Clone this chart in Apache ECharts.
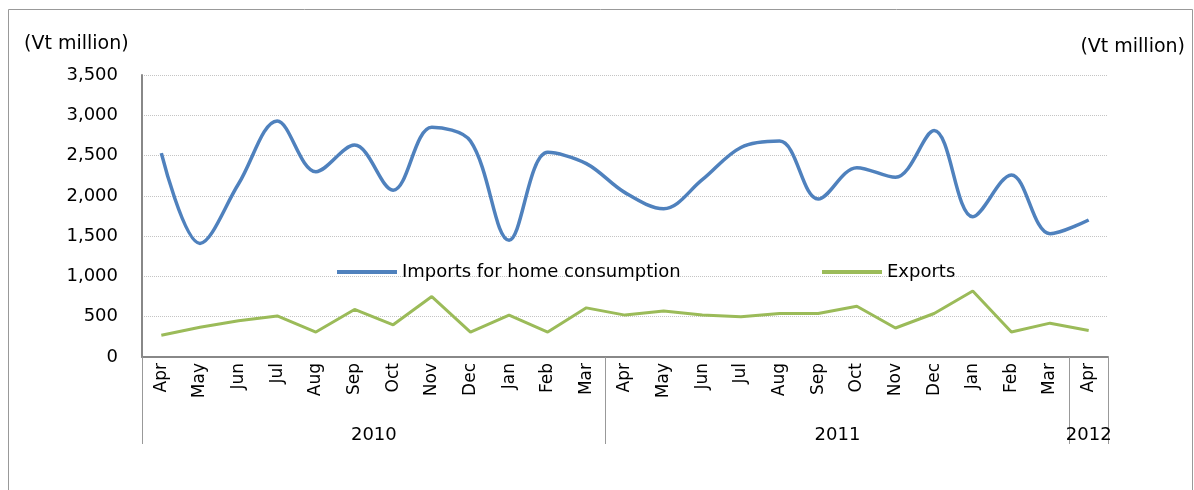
<!DOCTYPE html>
<html>
<head>
<meta charset="utf-8">
<script src="https://cdn.jsdelivr.net/npm/echarts@6/dist/echarts.min.js"></script>
<style>
html,body{margin:0;padding:0;background:#fff;}
#c{width:1194px;height:490px;}
</style>
</head>
<body>
<div id="c"></div>
<script>
const months = ['Apr','May','Jun','Jul','Aug','Sep','Oct','Nov','Dec','Jan','Feb','Mar',
                'Apr','May','Jun','Jul','Aug','Sep','Oct','Nov','Dec','Jan','Feb','Mar','Apr'];
const years = ['2010','2011','2012'];
const yearSpans = [12, 12, 1];
const imports = [2530,1410,2150,2930,2300,2630,2070,2850,2680,1450,2540,2400,
                 2040,1840,2200,2600,2680,1960,2350,2230,2810,1740,2260,1530,1700];
const exports = [270,370,450,510,310,590,400,750,310,520,310,610,
                 520,570,520,500,540,540,630,360,540,820,310,420,330];
const yTicks = [0,500,1000,1500,2000,2500,3000,3500];
const unitLabel = '(Vt million)';
const seriesNames = ['Imports for home consumption','Exports'];

// year boundaries and centres (in category units)
const bounds = [0];
yearSpans.forEach(s => bounds.push(bounds[bounds.length-1] + s));
const centres = yearSpans.map((s,i) => bounds[i] + s/2);

const FONT = 'DejaVu Sans';
const chart = echarts.init(document.getElementById('c'), null, {renderer:'canvas'});
chart.setOption({
  backgroundColor:'#fff',
  animation:false,
  title:[
    {text:unitLabel, left:19, top:30, textStyle:{fontFamily:FONT, fontSize:19, fontWeight:'normal', color:'#000'}},
    {text:unitLabel, right:4, top:33, textStyle:{fontFamily:FONT, fontSize:19, fontWeight:'normal', color:'#000'}}
  ],
  legend:[
    {data:[seriesNames[0]], left:332, top:258, icon:'rect', itemWidth:60, itemHeight:4, itemGap:0,
     textStyle:{fontFamily:FONT, fontSize:18, color:'#000'}},
    {data:[seriesNames[1]], left:817, top:258, icon:'rect', itemWidth:60, itemHeight:4, itemGap:0,
     textStyle:{fontFamily:FONT, fontSize:18, color:'#000'}}
  ],
  grid:{left:142, right:86, top:75, bottom:133, containLabel:false},
  xAxis:[
    {type:'category', data:months, boundaryGap:true,
     axisLine:{show:true, lineStyle:{color:'#888', width:2}},
     axisTick:{show:false},
     axisLabel:{rotate:90, interval:0, margin:6, fontFamily:FONT, fontSize:17, color:'#000'}},
    {type:'value', min:0, max:bounds[bounds.length-1], position:'bottom',
     axisLine:{show:false}, splitLine:{show:false},
     axisTick:{show:true, customValues:bounds, length:87, lineStyle:{color:'#999', width:1}},
     axisLabel:{show:true, customValues:centres, margin:69, fontFamily:FONT, fontSize:18, color:'#000',
       formatter:function(v){ const i = centres.indexOf(v); return i>=0 ? years[i] : ''; }}}
  ],
  yAxis:{type:'value', min:0, max:3500, interval:500,
    axisLine:{show:true, lineStyle:{color:'#888', width:2}},
    axisTick:{show:false},
    splitLine:{show:true, lineStyle:{type:'dotted', color:'#c4c4c4', width:1}},
    axisLabel:{margin:24, fontFamily:FONT, fontSize:18, color:'#000',
      formatter:function(v){ return yTicks.indexOf(v)>=0 ? v.toLocaleString('en-US') : ''; }}},
  series:[
    {name:seriesNames[0], type:'line', data:imports, smooth:0.35, showSymbol:false, symbol:'none',
     lineStyle:{color:'#4F81BD', width:3.5}, itemStyle:{color:'#4F81BD'}},
    {name:seriesNames[1], type:'line', data:exports, smooth:false, showSymbol:false, symbol:'none',
     lineStyle:{color:'#9BBB59', width:3}, itemStyle:{color:'#9BBB59'}}
  ],
  graphic:[
    {type:'rect', shape:{x:8.5, y:9.5, width:1184, height:490}, style:{fill:'none', stroke:'#999', lineWidth:1}, silent:true}
  ]
});
</script>
</body>
</html>
